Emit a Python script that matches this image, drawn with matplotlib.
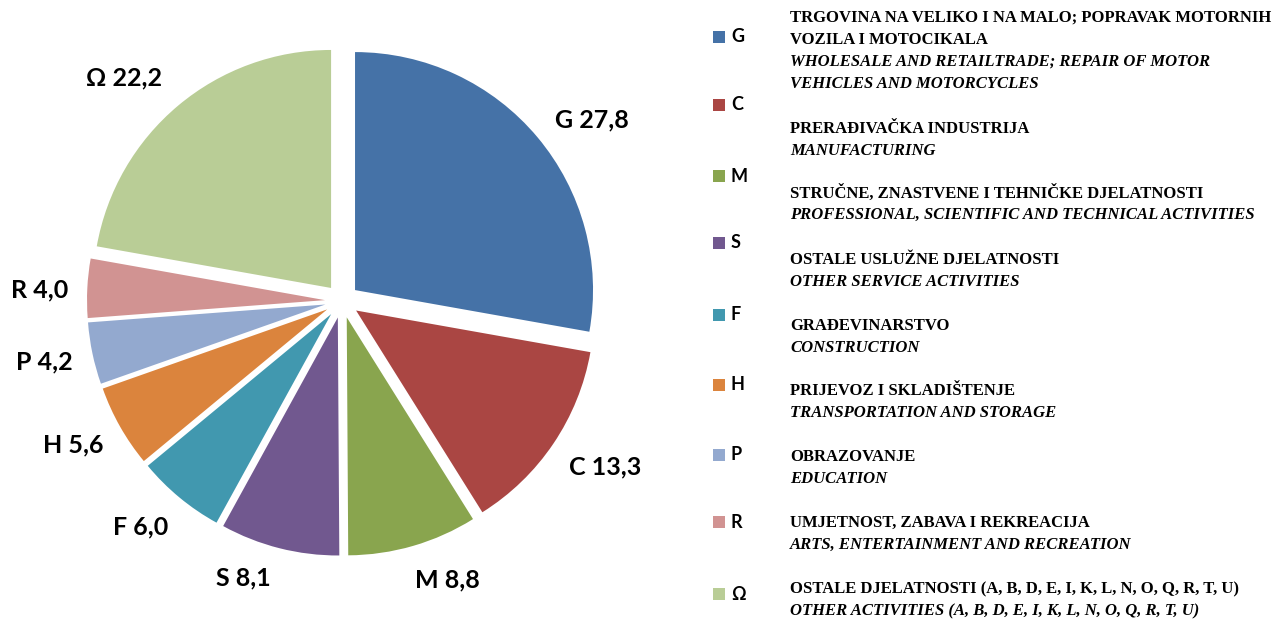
import matplotlib
matplotlib.use("Agg")
import matplotlib.pyplot as plt
from matplotlib.patches import Rectangle
import numpy as np

codes = ["G", "C", "M", "S", "F", "H", "P", "R", "Ω"]
values = [27.8, 13.3, 8.8, 8.1, 6.0, 5.6, 4.2, 4.0, 22.2]
colors = ["#4572A7", "#AA4643", "#89A54E", "#71588F", "#4198AF",
          "#DB843D", "#93A9CF", "#D19392", "#B9CD96"]
desc_hr = [["TRGOVINA NA VELIKO I NA MALO; POPRAVAK MOTORNIH", "VOZILA I MOTOCIKALA"],
           ["PRERAĐIVAČKA INDUSTRIJA"],
           ["STRUČNE, ZNASTVENE I TEHNIČKE DJELATNOSTI"],
           ["OSTALE USLUŽNE DJELATNOSTI"],
           ["GRAĐEVINARSTVO"],
           ["PRIJEVOZ I SKLADIŠTENJE"],
           ["OBRAZOVANJE"],
           ["UMJETNOST, ZABAVA I REKREACIJA"],
           ["OSTALE DJELATNOSTI (A, B, D, E, I, K, L, N, O, Q, R, T, U)"]]
desc_en = [["WHOLESALE AND RETAILTRADE; REPAIR OF MOTOR", "VEHICLES AND MOTORCYCLES"],
           ["MANUFACTURING"],
           ["PROFESSIONAL, SCIENTIFIC AND TECHNICAL ACTIVITIES"],
           ["OTHER SERVICE ACTIVITIES"],
           ["CONSTRUCTION"],
           ["TRANSPORTATION AND STORAGE"],
           ["EDUCATION"],
           ["ARTS, ENTERTAINMENT AND RECREATION"],
           ["OTHER ACTIVITIES (A, B, D, E, I, K, L, N, O, Q, R, T, U)"]]

# label anchor positions (pixels from top-left), layout only
label_pos = [(592, 120), (605, 467), (447, 580), (243, 578), (141, 527),
             (73, 445), (44, 362), (40, 290), (124, 78)]

W, H = 1286, 620
fig = plt.figure(figsize=(W / 100, H / 100), dpi=100)
ax = fig.add_axes([0, 0, 1, 1])

labels = [f"{c} {str(v).replace('.', ',')}" for c, v in zip(codes, values)]
R = 238
wedges, texts = ax.pie(values, colors=colors, startangle=90, counterclock=False,
                       explode=[17] * len(values), radius=R, center=(342, H - 301),
                       labels=labels, labeldistance=1.21,
                       wedgeprops=dict(linewidth=0),
                       textprops=dict(fontsize=18, fontweight="bold",
                                      family="Lato", color="black"))
for t, (px, py) in zip(texts, label_pos):
    t.set_horizontalalignment("center")
    t.set_verticalalignment("center")
    t.set_position((px, H - py))
ax.set_xlim(0, W)
ax.set_ylim(0, H)
ax.set_aspect("equal")
ax.axis("off")

# legend
sq_y = [37, 105, 176, 243, 315, 385, 455, 522, 594]
line_y = [[18, 40, 62, 84], [129, 151], [193, 215], [260, 282], [326, 348],
          [391, 413], [457, 479], [523, 545], [589, 611]]
serif = "Liberation Serif"
for i, c in enumerate(codes):
    y = sq_y[i]
    fig.patches.append(Rectangle(((713) / W, 1 - (y + 6) / H), 12 / W, 12 / H,
                                 transform=fig.transFigure, color=colors[i], lw=0))
    fig.text(731 / W, 1 - y / H, c, fontsize=13, fontweight="bold", family="Lato",
             va="center", ha="left")
    lines = [(s, "normal") for s in desc_hr[i]] + [(s, "italic") for s in desc_en[i]]
    for (s, st), ly in zip(lines, line_y[i]):
        fig.text(790 / W, 1 - ly / H, s, fontsize=12.0, fontweight="bold",
                 style=st, family=serif, va="center", ha="left")

fig.savefig("out.png", dpi=100, facecolor="white")
